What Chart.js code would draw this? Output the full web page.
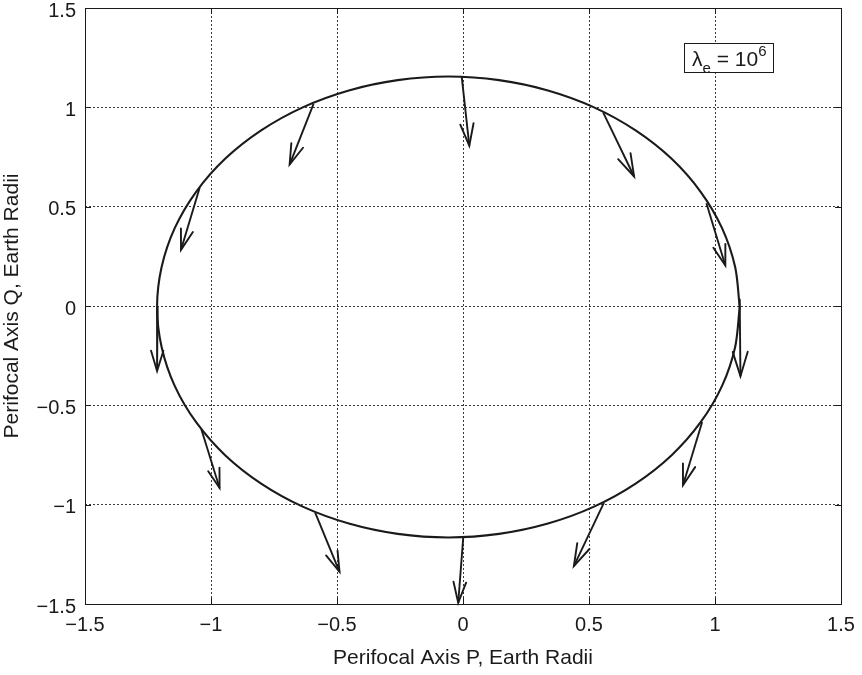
<!DOCTYPE html>
<html>
<head>
<meta charset="utf-8">
<title>Perifocal orbit with thrust direction</title>
<script src="https://cdn.jsdelivr.net/npm/chart.js@4/dist/chart.umd.min.js"></script>
<style>
  html, body { margin: 0; padding: 0; background: #ffffff; }
  #wrap { width: 862px; height: 675px; }
</style>
</head>
<body>
<div id="wrap"><canvas id="chart" width="862" height="675"></canvas></div>
<script>
// Orbit trace in the perifocal frame (Earth radii)
const orbitP = [1.098, 1.080, 1.028, 0.943, 0.828, 0.685, 0.520, 0.337, 0.143, -0.058,
                -0.259, -0.453, -0.636, -0.801, -0.944, -1.059, -1.144, -1.196, -1.214,
                -1.196, -1.144, -1.059, -0.944, -0.801, -0.636, -0.453, -0.259, -0.058,
                0.143, 0.337, 0.520, 0.685, 0.828, 0.943, 1.028, 1.080, 1.098];
const orbitQ = [-0.005, 0.196, 0.392, 0.575, 0.741, 0.884, 1.000, 1.085, 1.137, 1.155,
                1.137, 1.085, 1.000, 0.884, 0.741, 0.575, 0.392, 0.196, -0.005,
                -0.206, -0.402, -0.585, -0.751, -0.894, -1.010, -1.095, -1.147, -1.165,
                -1.147, -1.095, -1.010, -0.894, -0.751, -0.585, -0.402, -0.206, -0.005];

// Thrust vectors: tail on the orbit, head at the arrow tip
const arrowTailP = [-0.005, 0.556, 0.966, 1.098, 0.949, 0.559, 0.001, -0.587, -1.038, -1.212, -1.045, -0.593];
const arrowTailQ = [1.153, 0.975, 0.517, 0.037, -0.584, -0.991, -1.165, -1.039, -0.622, -0.005, 0.595, 1.017];
const arrowHeadP = [0.025, 0.679, 1.041, 1.101, 0.873, 0.440, -0.019, -0.490, -0.966, -1.214, -1.119, -0.688];
const arrowHeadQ = [0.807, 0.652, 0.204, -0.354, -0.902, -1.309, -1.494, -1.338, -0.916, -0.327, 0.283, 0.712];

const tickValues = [-1.5, -1, -0.5, 0, 0.5, 1, 1.5];
const tickLabels = ['\u22121.5', '\u22121', '\u22120.5', '0', '0.5', '1', '1.5'];

const xAxisTitle = 'Perifocal Axis P, Earth Radii';
const yAxisTitle = 'Perifocal Axis Q, Earth Radii';
const legendSymbol = '\u03bb';
const legendSub = 'e';
const legendBase = ' = 10';
const legendExp = '6';

const FONT = '"Liberation Sans", Arial, Helvetica, sans-serif';
const INK = '#1a1a1a';

const orbitData = orbitP.map((p, i) => ({ x: p, y: orbitQ[i] }));

const arrowSets = arrowTailP.map((p, i) => ({
  label: 'thrust ' + (i + 1),
  data: [{ x: p, y: arrowTailQ[i] }, { x: arrowHeadP[i], y: arrowHeadQ[i] }],
  showLine: true,
  borderColor: INK,
  borderWidth: 1.9,
  pointRadius: 0,
  tension: 0,
  fill: false
}));

function labelFor(value) {
  const i = tickValues.findIndex(t => Math.abs(t - value) < 1e-9);
  return i >= 0 ? tickLabels[i] : '';
}

// Open V-shaped heads on every thrust vector
const arrowHeads = {
  id: 'arrowHeads',
  afterDatasetsDraw(chart) {
    const { ctx, scales: { x, y } } = chart;
    ctx.save();
    ctx.strokeStyle = INK;
    ctx.lineWidth = 1.9;
    ctx.lineCap = 'round';
    for (let i = 0; i < arrowTailP.length; i++) {
      const x0 = x.getPixelForValue(arrowTailP[i]);
      const y0 = y.getPixelForValue(arrowTailQ[i]);
      const x1 = x.getPixelForValue(arrowHeadP[i]);
      const y1 = y.getPixelForValue(arrowHeadQ[i]);
      const dx = x1 - x0, dy = y1 - y0;
      const len = Math.hypot(dx, dy);
      const ang = Math.atan2(dy, dx);
      const h = 0.33 * len;
      const spread = 17 * Math.PI / 180;
      ctx.beginPath();
      ctx.moveTo(x1 - h * Math.cos(ang - spread), y1 - h * Math.sin(ang - spread));
      ctx.lineTo(x1, y1);
      ctx.lineTo(x1 - h * Math.cos(ang + spread), y1 - h * Math.sin(ang + spread));
      ctx.stroke();
    }
    ctx.restore();
  }
};

// Axes box, inward tick marks and the annotation box
const frame = {
  id: 'frame',
  afterDraw(chart) {
    const { ctx, chartArea: a, scales: { x, y } } = chart;
    ctx.save();
    ctx.strokeStyle = INK;
    ctx.lineWidth = 1;
    ctx.strokeRect(a.left + 0.5, a.top + 0.5, a.right - a.left, a.bottom - a.top);
    const tl = 6;
    ctx.beginPath();
    tickValues.forEach(v => {
      const px = Math.round(x.getPixelForValue(v)) + 0.5;
      ctx.moveTo(px, a.bottom); ctx.lineTo(px, a.bottom - tl);
      ctx.moveTo(px, a.top); ctx.lineTo(px, a.top + tl);
      const py = Math.round(y.getPixelForValue(v)) + 0.5;
      ctx.moveTo(a.left, py); ctx.lineTo(a.left + tl, py);
      ctx.moveTo(a.right, py); ctx.lineTo(a.right - tl, py);
    });
    ctx.stroke();

    // annotation box
    const bx = a.right - 157, by = a.top + 35, bw = 89, bh = 29;
    ctx.fillStyle = '#ffffff';
    ctx.fillRect(bx, by, bw, bh);
    ctx.strokeRect(bx + 0.5, by + 0.5, bw, bh);
    ctx.fillStyle = INK;
    ctx.textBaseline = 'alphabetic';
    ctx.textAlign = 'left';
    let tx = bx + 8;
    const base = by + 23;
    ctx.font = '21px ' + FONT;
    ctx.fillText(legendSymbol, tx, base);
    tx += ctx.measureText(legendSymbol).width;
    ctx.font = '15px ' + FONT;
    ctx.fillText(legendSub, tx, base + 7);
    tx += ctx.measureText(legendSub).width;
    ctx.font = '21px ' + FONT;
    ctx.fillText(legendBase, tx, base);
    tx += ctx.measureText(legendBase).width;
    ctx.font = '15px ' + FONT;
    ctx.fillText(legendExp, tx, base - 10);
    ctx.restore();
  }
};

new Chart(document.getElementById('chart'), {
  type: 'scatter',
  data: {
    datasets: [{
      label: 'orbit',
      data: orbitData,
      showLine: true,
      borderColor: INK,
      borderWidth: 2.1,
      pointRadius: 0,
      tension: 0.3,
      fill: false
    }, ...arrowSets]
  },
  options: {
    responsive: false,
    animation: false,
    devicePixelRatio: 1,
    layout: { padding: { left: 0, top: 8, right: 21, bottom: 0 } },
    plugins: {
      legend: { display: false },
      tooltip: { enabled: false }
    },
    scales: {
      x: {
        type: 'linear',
        min: -1.5, max: 1.5,
        afterBuildTicks: s => { s.ticks = tickValues.map(v => ({ value: v })); },
        afterFit: s => { s.height = 71; s.paddingLeft = 0; s.paddingRight = 0; s.paddingTop = 0; s.paddingBottom = 0; },
        grid: { color: '#3a3a3a', lineWidth: 1, drawTicks: false },
        border: { display: false, dash: [2, 2] },
        ticks: {
          callback: labelFor,
          font: { family: FONT, size: 20 },
          color: INK,
          padding: 9,
          maxRotation: 0,
          autoSkip: false
        },
        title: {
          display: true,
          text: xAxisTitle,
          font: { family: FONT, size: 21 },
          color: INK,
          padding: { top: 0, bottom: 4 }
        }
      },
      y: {
        type: 'linear',
        min: -1.5, max: 1.5,
        afterBuildTicks: s => { s.ticks = tickValues.map(v => ({ value: v })); },
        afterFit: s => { s.width = 85; s.paddingLeft = 0; s.paddingRight = 0; s.paddingTop = 0; s.paddingBottom = 0; },
        grid: { color: '#3a3a3a', lineWidth: 1, drawTicks: false },
        border: { display: false, dash: [2, 2] },
        ticks: {
          callback: labelFor,
          font: { family: FONT, size: 20 },
          color: INK,
          padding: 9,
          labelOffset: 3,
          autoSkip: false
        },
        title: {
          display: true,
          text: yAxisTitle,
          font: { family: FONT, size: 21 },
          color: INK,
          padding: { top: 0, bottom: 0 }
        }
      }
    }
  },
  plugins: [arrowHeads, frame]
});
</script>
</body>
</html>
